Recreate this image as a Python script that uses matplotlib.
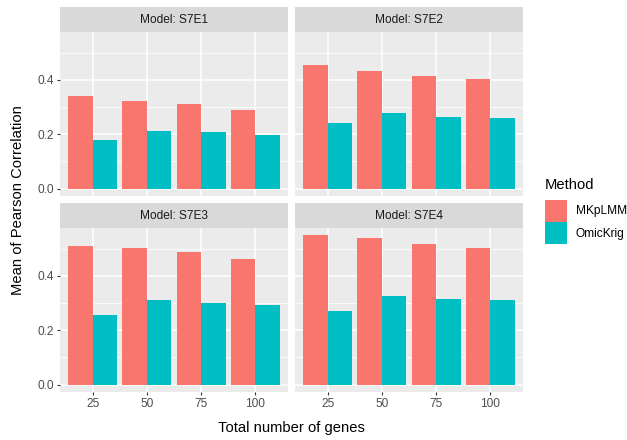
import numpy as np
import matplotlib
matplotlib.use("Agg")
import matplotlib.pyplot as plt
from matplotlib.patches import Rectangle

plt.rcParams['font.family'] = ['Liberation Sans', 'DejaVu Sans']

# data
genes = ["25", "50", "75", "100"]
models = ["S7E1", "S7E2", "S7E3", "S7E4"]
mkplmm = {
    "S7E1": [0.340, 0.322, 0.311, 0.289],
    "S7E2": [0.454, 0.432, 0.414, 0.403],
    "S7E3": [0.509, 0.502, 0.487, 0.461],
    "S7E4": [0.549, 0.538, 0.516, 0.502],
}
omickrig = {
    "S7E1": [0.179, 0.212, 0.208, 0.197],
    "S7E2": [0.241, 0.278, 0.263, 0.259],
    "S7E3": [0.256, 0.311, 0.300, 0.292],
    "S7E4": [0.270, 0.325, 0.314, 0.311],
}
methods = ["MKpLMM", "OmicKrig"]
colors = ["#F8766D", "#00BFC4"]

W, H = 627, 440
fig = plt.figure(figsize=(W / 100, H / 100), dpi=100)


def box(x0, y0, x1, y1):
    # pixel box (top-left origin) -> figure fraction
    return [x0 / W, 1 - y1 / H, (x1 - x0) / W, (y1 - y0) / H]


cols = [(60, 288), (295, 523)]
rows = [(7, 32, 196), (203, 228, 392)]

ymax = max(max(v) for v in mkplmm.values())
pad = ymax * 0.05
x = np.arange(1, len(genes) + 1)
bw = 0.45

for i, m in enumerate(models):
    r, c = divmod(i, 2)
    x0, x1 = cols[c]
    st, pt, pb = rows[r]

    # strip
    sax = fig.add_axes(box(x0, st, x1, pt))
    sax.set_facecolor("#D9D9D9")
    sax.set_xticks([]); sax.set_yticks([])
    for s in sax.spines.values():
        s.set_visible(False)
    sax.text(0.5, 0.5, "Model: " + m, ha="center", va="center",
             fontsize=8.6, color="#1A1A1A", transform=sax.transAxes)

    ax = fig.add_axes(box(x0, pt, x1, pb))
    ax.set_facecolor("#EBEBEB")
    ax.bar(x - bw / 2, mkplmm[m], width=bw, color=colors[0], zorder=3)
    ax.bar(x + bw / 2, omickrig[m], width=bw, color=colors[1], zorder=3)
    ax.set_xlim(0.4, len(genes) + 0.6)
    ax.set_ylim(-pad, ymax + pad)
    ax.set_yticks([0.0, 0.2, 0.4])
    ax.set_yticks([0.1, 0.3, 0.5], minor=True)
    ax.set_xticks(x)
    ax.grid(which="major", color="white", linewidth=1.1, zorder=0)
    ax.grid(which="minor", axis="y", color="white", linewidth=0.55, zorder=0)
    ax.set_axisbelow(True)
    for s in ax.spines.values():
        s.set_visible(False)
    ax.tick_params(which="minor", length=0)
    ax.tick_params(which="major", length=2.5, width=0.8, color="#333333",
                   labelsize=8.6, labelcolor="#4D4D4D", pad=1.5)
    if c == 0:
        ax.set_yticklabels(["0.0", "0.2", "0.4"])
    else:
        ax.tick_params(axis="y", length=0, labelleft=False)
    if r == 1:
        ax.set_xticklabels(genes)
    else:
        ax.tick_params(axis="x", length=0, labelbottom=False)

fig.text(291 / W, 1 - 428 / H, "Total number of genes", ha="center", va="center",
         fontsize=10.6, color="black")
fig.text(18 / W, 1 - 200 / H, "Mean of Pearson Correlation", ha="center", va="center",
         rotation=90, fontsize=10.6, color="black")

# legend, drawn by hand to match the ggplot guide
fig.text(545 / W, 1 - 185 / H, "Method", ha="left", va="center",
         fontsize=10.6, color="black")
for k, (lab, col) in enumerate(zip(methods, colors)):
    ky = 200 + 22.5 * k
    fig.patches.append(Rectangle((545 / W, 1 - (ky + 22) / H), 22 / W, 22 / H,
                                 transform=fig.transFigure, facecolor=col,
                                 edgecolor="none"))
    fig.text(576 / W, 1 - (ky + 11) / H, lab, ha="left", va="center",
             fontsize=8.6, color="black")

fig.savefig("out.png", dpi=100)
